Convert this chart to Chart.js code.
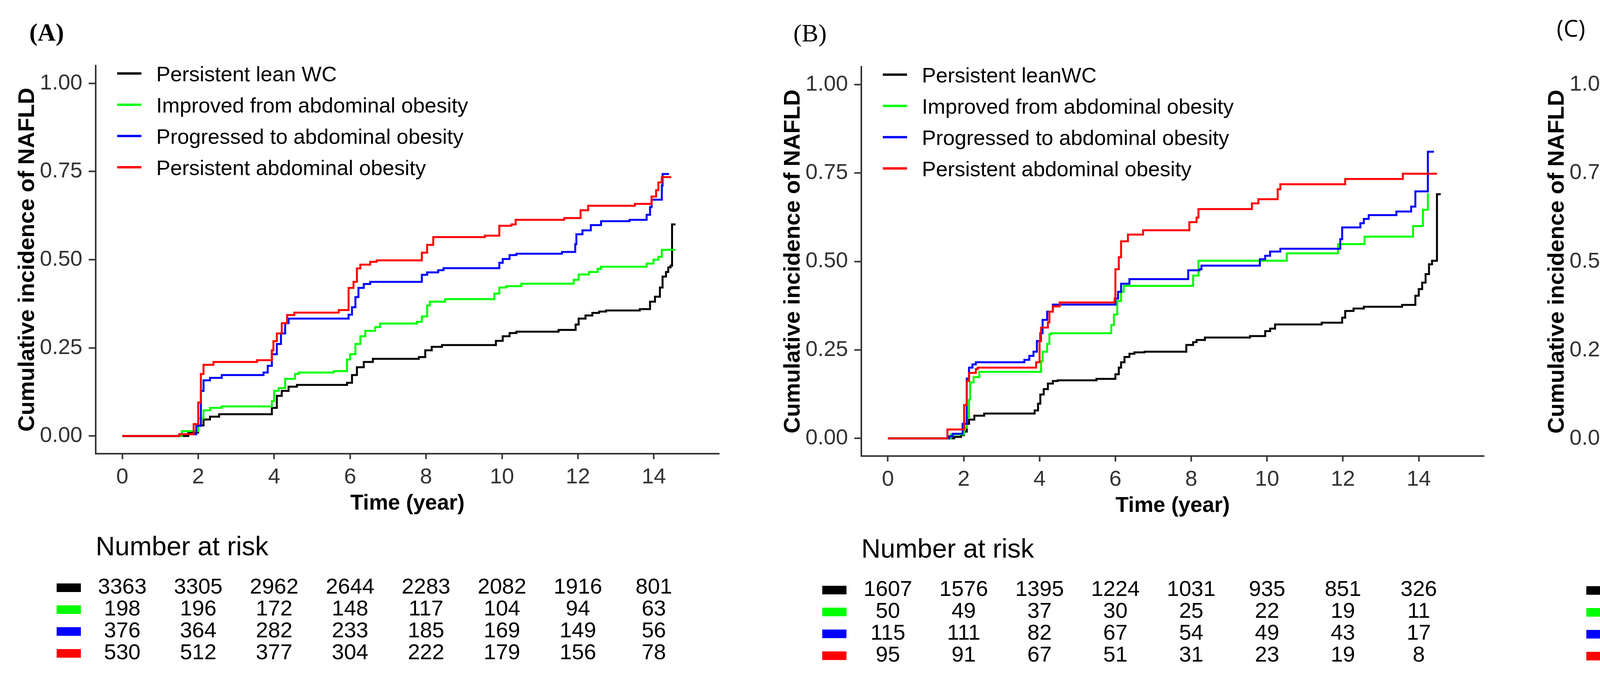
<!DOCTYPE html>
<html>
<head>
<meta charset="utf-8">
<script src="https://cdn.jsdelivr.net/npm/chart.js@4.4.0/dist/chart.umd.min.js"></script>
<style>
html, body { margin: 0; padding: 0; background: #fff; overflow: hidden; }
#page { position: relative; width: 5777px; height: 1735px; }
canvas { position: absolute; top: 0; }
.tag { position: absolute; color: #000; line-height: 1; white-space: nowrap; }
</style>
</head>
<body>
<div id="page">
  <canvas id="chartA" width="1925" height="1735" style="left:0px"></canvas>
  <canvas id="chartB" width="1925" height="1735" style="left:1925px"></canvas>
  <canvas id="chartC" width="1927" height="1735" style="left:3850px"></canvas>
  <div class="tag" style="left:75px;top:46px;font:bold 64px 'Liberation Serif', serif">(A)</div>
  <div class="tag" style="left:2031px;top:48px;font:64px 'Liberation Serif', serif">(B)</div>
  <div class="tag" style="left:3985px;top:30px;font:60px 'Open Sans', sans-serif">(C)</div>
</div>
<script>
// ---- data ----
const riskTimes = [0, 2, 4, 6, 8, 10, 12, 14];
const xTicks = [0, 2, 4, 6, 8, 10, 12, 14];
const yTicks = [0, 0.25, 0.5, 0.75, 1];
const groupNames = ['Persistent lean WC', 'Improved from abdominal obesity', 'Progressed to abdominal obesity', 'Persistent abdominal obesity'];
const groupNamesB = ['Persistent leanWC', 'Improved from abdominal obesity', 'Progressed to abdominal obesity', 'Persistent abdominal obesity'];
const groupColors = ['#000000', '#00FF00', '#0000FF', '#FF0000'];

// (A) step points [time, cumulative incidence]
const leanA = [[0,0],[1.74,0.01],[2.0,0.03],[2.14,0.047],[2.31,0.055],[2.55,0.062],[3.94,0.08],[4.07,0.114],[4.2,0.128],[4.38,0.14],[4.6,0.145],[5.92,0.151],[6.05,0.173],[6.18,0.195],[6.36,0.21],[6.6,0.219],[7.81,0.224],[7.98,0.243],[8.15,0.253],[8.42,0.258],[9.84,0.27],[10.02,0.283],[10.2,0.292],[10.38,0.296],[11.49,0.301],[11.94,0.316],[12.02,0.333],[12.2,0.342],[12.38,0.349],[12.56,0.353],[12.74,0.356],[13.63,0.36],[13.9,0.381],[14.03,0.395],[14.16,0.421],[14.23,0.452],[14.32,0.465],[14.38,0.478],[14.44,0.483],[14.48,0.6],[14.57,0.6]];
const improvedA = [[0,0],[1.57,0.014],[2.0,0.05],[2.14,0.073],[2.31,0.08],[2.62,0.084],[3.94,0.099],[4.0,0.128],[4.12,0.136],[4.29,0.162],[4.55,0.176],[4.64,0.18],[5.57,0.184],[5.92,0.217],[6.0,0.232],[6.14,0.261],[6.27,0.283],[6.4,0.298],[6.66,0.309],[6.79,0.319],[7.76,0.324],[7.89,0.339],[8.03,0.37],[8.1,0.381],[8.5,0.388],[9.8,0.404],[9.93,0.421],[10.11,0.425],[10.51,0.432],[11.89,0.443],[12.02,0.458],[12.29,0.465],[12.52,0.474],[12.61,0.48],[13.81,0.489],[13.99,0.5],[14.12,0.508],[14.21,0.528],[14.57,0.528]];
const progressedA = [[0,0],[1.5,0.005],[1.95,0.029],[2.07,0.128],[2.14,0.158],[2.31,0.165],[2.62,0.173],[3.72,0.18],[3.83,0.199],[3.94,0.232],[4.07,0.261],[4.18,0.291],[4.29,0.32],[4.38,0.333],[5.96,0.344],[6.05,0.365],[6.14,0.394],[6.22,0.42],[6.36,0.431],[6.53,0.437],[7.89,0.457],[8.03,0.464],[8.32,0.47],[8.46,0.476],[9.93,0.491],[10.02,0.502],[10.2,0.513],[10.38,0.517],[11.58,0.522],[11.93,0.544],[11.96,0.572],[12.12,0.583],[12.34,0.598],[12.61,0.609],[13.36,0.613],[13.81,0.627],[13.9,0.649],[13.94,0.67],[14.21,0.71],[14.23,0.743],[14.4,0.743]];
const persistentA = [[0,0],[1.5,0.005],[1.88,0.034],[2.0,0.095],[2.07,0.176],[2.14,0.202],[2.4,0.21],[3.55,0.215],[3.94,0.243],[3.98,0.269],[4.07,0.291],[4.2,0.32],[4.34,0.343],[4.53,0.35],[5.7,0.357],[5.96,0.42],[6.09,0.437],[6.18,0.475],[6.27,0.486],[6.53,0.494],[6.7,0.498],[7.89,0.52],[8.03,0.542],[8.19,0.564],[9.55,0.568],[9.93,0.596],[10.25,0.6],[10.36,0.613],[11.64,0.618],[12.07,0.64],[12.27,0.653],[13.5,0.658],[13.94,0.679],[14.06,0.697],[14.12,0.719],[14.21,0.734],[14.46,0.734]];

// (B)
const leanB = [[0,0],[1.75,0.004],[1.93,0.009],[2.01,0.019],[2.08,0.041],[2.14,0.053],[2.28,0.064],[2.54,0.07],[3.87,0.079],[3.96,0.098],[4.02,0.124],[4.11,0.139],[4.22,0.155],[4.35,0.162],[4.48,0.164],[5.5,0.168],[6.0,0.181],[6.09,0.2],[6.15,0.215],[6.24,0.23],[6.37,0.239],[6.5,0.243],[6.77,0.245],[7.87,0.264],[8.05,0.272],[8.14,0.278],[8.36,0.285],[9.55,0.289],[9.95,0.303],[10.08,0.31],[10.21,0.322],[11.44,0.327],[11.98,0.341],[12.06,0.36],[12.28,0.367],[12.55,0.372],[13.56,0.377],[13.91,0.403],[14.0,0.422],[14.09,0.44],[14.18,0.464],[14.27,0.492],[14.35,0.502],[14.48,0.69],[14.58,0.69]];
const improvedB = [[0,0],[1.66,0.011],[2.01,0.03],[2.08,0.06],[2.14,0.109],[2.17,0.158],[2.26,0.173],[2.41,0.188],[4.04,0.218],[4.08,0.245],[4.2,0.267],[4.26,0.294],[4.3,0.297],[5.89,0.32],[5.96,0.35],[6.05,0.388],[6.15,0.414],[6.22,0.431],[8.05,0.46],[8.19,0.502],[10.52,0.523],[11.87,0.549],[12.57,0.57],[13.85,0.6],[14.11,0.646],[14.24,0.693]];
const progressedB = [[0,0],[1.62,0.006],[1.71,0.013],[1.97,0.041],[2.08,0.169],[2.14,0.2],[2.23,0.209],[2.32,0.215],[3.6,0.222],[3.73,0.233],[3.84,0.245],[3.93,0.275],[4.02,0.297],[4.08,0.335],[4.2,0.358],[4.35,0.378],[6.0,0.395],[6.07,0.414],[6.15,0.437],[6.37,0.45],[7.92,0.475],[8.22,0.478],[8.27,0.488],[9.81,0.506],[9.95,0.516],[10.08,0.528],[10.35,0.536],[11.93,0.563],[11.98,0.596],[12.46,0.608],[12.55,0.62],[12.68,0.631],[13.41,0.641],[13.8,0.655],[13.91,0.698],[14.24,0.81],[14.4,0.81]];
const persistentB = [[0,0],[1.57,0.025],[2.01,0.094],[2.08,0.162],[2.14,0.185],[2.32,0.196],[2.37,0.2],[3.91,0.215],[4.0,0.275],[4.04,0.313],[4.22,0.328],[4.26,0.358],[4.35,0.373],[4.53,0.384],[5.98,0.395],[6.0,0.478],[6.09,0.512],[6.15,0.557],[6.33,0.576],[6.73,0.588],[7.95,0.611],[8.14,0.624],[8.19,0.648],[9.6,0.664],[9.77,0.676],[10.28,0.704],[10.35,0.718],[12.06,0.733],[13.58,0.748],[14.48,0.748]];

// (C)
const leanC = [[0,0],[1.82,0.009],[1.99,0.025],[2.11,0.044],[2.26,0.051],[2.57,0.055],[3.89,0.065],[3.98,0.084],[4.07,0.099],[4.2,0.11],[4.38,0.121],[4.6,0.125],[5.66,0.128],[5.97,0.139],[6.06,0.158],[6.15,0.172],[6.28,0.183],[6.45,0.191],[6.72,0.194],[7.78,0.198],[7.91,0.216],[8.09,0.225],[8.37,0.229],[9.82,0.246],[9.96,0.254],[10.19,0.269],[10.41,0.273],[11.87,0.279],[12.01,0.3],[12.14,0.313],[12.32,0.321],[12.55,0.331],[13.83,0.341],[13.92,0.349],[14.01,0.362],[14.1,0.374],[14.19,0.399],[14.28,0.412],[14.39,0.424],[14.44,0.462]];
const improvedC = [[0,0],[1.55,0.003],[1.99,0.021],[2.11,0.036],[2.22,0.044],[2.57,0.047],[3.89,0.055],[4.03,0.08],[4.16,0.095],[4.34,0.117],[4.42,0.121],[4.6,0.139],[4.64,0.143],[5.66,0.15],[5.93,0.172],[6.01,0.194],[6.15,0.22],[6.23,0.235],[6.37,0.253],[6.54,0.264],[6.72,0.272],[6.81,0.281],[7.69,0.286],[7.87,0.297],[7.96,0.327],[8.1,0.345],[8.5,0.353],[9.78,0.366],[9.91,0.382],[10.1,0.399],[11.96,0.416],[12.1,0.432],[12.32,0.44],[12.55,0.446],[13.83,0.455],[14.01,0.466],[14.6,0.466]];
const progressedC = [[0,0],[1.4,0.004],[1.77,0.009],[1.99,0.025],[2.11,0.106],[2.15,0.139],[2.3,0.147],[2.44,0.158],[2.61,0.161],[3.81,0.169],[3.89,0.191],[3.98,0.213],[4.05,0.242],[4.16,0.272],[4.25,0.301],[4.34,0.312],[4.51,0.318],[5.97,0.33],[6.06,0.352],[6.15,0.382],[6.23,0.411],[6.37,0.422],[6.54,0.428],[7.87,0.441],[8.04,0.459],[8.19,0.466],[9.91,0.478],[10.0,0.49],[10.14,0.507],[11.6,0.511],[11.96,0.527],[12.01,0.561],[12.1,0.573],[12.19,0.585],[12.37,0.594],[12.6,0.6],[13.69,0.611],[13.83,0.619],[13.89,0.635],[13.94,0.656],[14.19,0.681],[14.42,0.681]];
const persistentC = [[0,0],[1.77,0.007],[1.91,0.036],[2.0,0.095],[2.06,0.176],[2.15,0.205],[2.3,0.209],[2.44,0.216],[3.81,0.22],[3.94,0.242],[4.0,0.268],[4.07,0.29],[4.16,0.308],[4.27,0.327],[4.38,0.334],[4.51,0.341],[5.75,0.352],[5.97,0.375],[6.01,0.404],[6.1,0.422],[6.17,0.448],[6.23,0.463],[6.37,0.47],[6.54,0.474],[6.72,0.477],[7.87,0.492],[8.0,0.507],[8.04,0.521],[8.19,0.548],[9.82,0.556],[9.91,0.573],[10.05,0.581],[10.28,0.585],[10.37,0.594],[11.69,0.598],[12.01,0.615],[12.14,0.623],[12.23,0.631],[13.51,0.635],[13.94,0.652],[14.01,0.668],[14.12,0.685],[14.19,0.71],[14.26,0.733],[14.51,0.733]];

// number at risk
const riskLeanA = [3363, 3305, 2962, 2644, 2283, 2082, 1916, 801];
const riskImprovedA = [198, 196, 172, 148, 117, 104, 94, 63];
const riskProgressedA = [376, 364, 282, 233, 185, 169, 149, 56];
const riskPersistentA = [530, 512, 377, 304, 222, 179, 156, 78];
const riskLeanB = [1607, 1576, 1395, 1224, 1031, 935, 851, 326];
const riskImprovedB = [50, 49, 37, 30, 25, 22, 19, 11];
const riskProgressedB = [115, 111, 82, 67, 54, 49, 43, 17];
const riskPersistentB = [95, 91, 67, 51, 31, 23, 19, 8];
const riskLeanC = [1756, 1729, 1567, 1420, 1252, 1147, 1065, 475];
const riskImprovedC = [148, 147, 135, 118, 92, 82, 75, 52];
const riskProgressedC = [261, 253, 200, 166, 131, 120, 106, 39];
const riskPersistentC = [435, 421, 310, 253, 191, 156, 137, 70];

const FONT = "'Liberation Sans', Arial, sans-serif";
const AXIS = '#333333';

// legend inside the panel and the risk table under it
const kmExtras = {
  id: 'kmExtras',
  afterDraw(chart, args, opts) {
    const ctx = chart.ctx;
    const area = chart.chartArea;
    const xs = chart.scales.x;
    ctx.save();
    // legend
    opts.names.forEach((name, i) => {
      const y = area.top + 20 + 80 * i;
      ctx.strokeStyle = groupColors[i];
      ctx.lineWidth = 6;
      ctx.beginPath();
      ctx.moveTo(area.left + 55, y);
      ctx.lineTo(area.left + 117, y);
      ctx.stroke();
      ctx.fillStyle = '#000';
      ctx.font = '54px ' + FONT;
      ctx.textAlign = 'left';
      ctx.textBaseline = 'middle';
      ctx.fillText(name, area.left + 155, y + 5);
    });
    // number at risk
    ctx.fillStyle = '#000';
    ctx.font = '68px ' + FONT;
    ctx.textAlign = 'left';
    ctx.textBaseline = 'middle';
    ctx.fillText('Number at risk', area.left, area.bottom + 241);
    opts.risk.forEach((row, i) => {
      const y = area.bottom + 343 + 56 * i;
      ctx.fillStyle = groupColors[i];
      ctx.fillRect(area.left - 100, y - 11, 62, 22);
      ctx.fillStyle = '#000';
      ctx.font = '56px ' + FONT;
      ctx.textAlign = 'center';
      row.forEach((n, j) => {
        ctx.fillText(String(n), xs.getPixelForValue(riskTimes[j]), y);
      });
    });
    ctx.restore();
  }
};

function makeKM(id, curves, names, risk, pad) {
  const canvas = document.getElementById(id);
  const ctx = canvas.getContext('2d');
  const datasets = curves.map((c, i) => ({
    label: names[i],
    data: c.map(p => ({ x: p[0], y: p[1] })),
    borderColor: groupColors[i],
    backgroundColor: groupColors[i],
    borderWidth: 5,
    pointRadius: 0,
    stepped: true,
    fill: false,
    order: 3 - i
  }));
  return new Chart(ctx, {
    type: 'line',
    data: { datasets: datasets },
    plugins: [kmExtras],
    options: {
      responsive: false,
      animation: false,
      devicePixelRatio: 1,
      events: [],
      layout: { padding: pad },
      plugins: {
        legend: { display: false },
        tooltip: { enabled: false },
        kmExtras: { names: names, risk: risk }
      },
      scales: {
        x: {
          type: 'linear',
          min: -0.7,
          max: 15.72,
          afterBuildTicks: s => { s.ticks = xTicks.map(v => ({ value: v })); },
          afterFit: s => { s.height = 180; },
          ticks: { color: AXIS, font: { family: FONT, size: 56 }, padding: 13, maxRotation: 0, autoSkip: false,
                   callback: v => String(v) },
          grid: { drawOnChartArea: false, drawTicks: true, tickLength: 14, tickWidth: 4, tickColor: AXIS },
          border: { display: true, color: AXIS, width: 4 },
          title: { display: true, text: 'Time (year)', color: '#000',
                   font: { family: FONT, size: 55, weight: 'bold', lineHeight: 1 }, padding: { top: 0, bottom: 25 } }
        },
        y: {
          min: -0.05,
          max: 1.05,
          afterBuildTicks: s => { s.ticks = yTicks.map(v => ({ value: v })); },
          afterFit: s => { s.width = 245; },
          ticks: { color: AXIS, font: { family: FONT, size: 56 }, padding: 16,
                   callback: v => Number(v).toFixed(2) },
          grid: { drawOnChartArea: false, drawTicks: true, tickLength: 18, tickWidth: 4, tickColor: AXIS },
          border: { display: true, color: AXIS, width: 4 },
          title: { display: true, text: 'Cumulative incidence of NAFLD', color: '#000',
                   font: { family: FONT, size: 58, weight: 'bold', lineHeight: 1 }, padding: { top: 42, bottom: 0 } }
        }
      }
    }
  });
}

document.addEventListener('DOMContentLoaded', function () {
  if (typeof Chart === 'undefined') {
    console.error('Chart.js is not loaded');
    return;
  }
  makeKM('chartA', [leanA, improvedA, progressedA, persistentA], groupNames,
         [riskLeanA, riskImprovedA, riskProgressedA, riskPersistentA],
         { left: 0, right: 84, top: 168, bottom: 394 });
  makeKM('chartB', [leanB, improvedB, progressedB, persistentB], groupNamesB,
         [riskLeanB, riskImprovedB, riskProgressedB, riskPersistentB],
         { left: 35, right: 51, top: 171, bottom: 388 });
  makeKM('chartC', [leanC, improvedC, progressedC, persistentC], groupNames,
         [riskLeanC, riskImprovedC, riskProgressedC, riskPersistentC],
         { left: 66, right: 23, top: 171, bottom: 387 });
});
</script>
</body>
</html>
